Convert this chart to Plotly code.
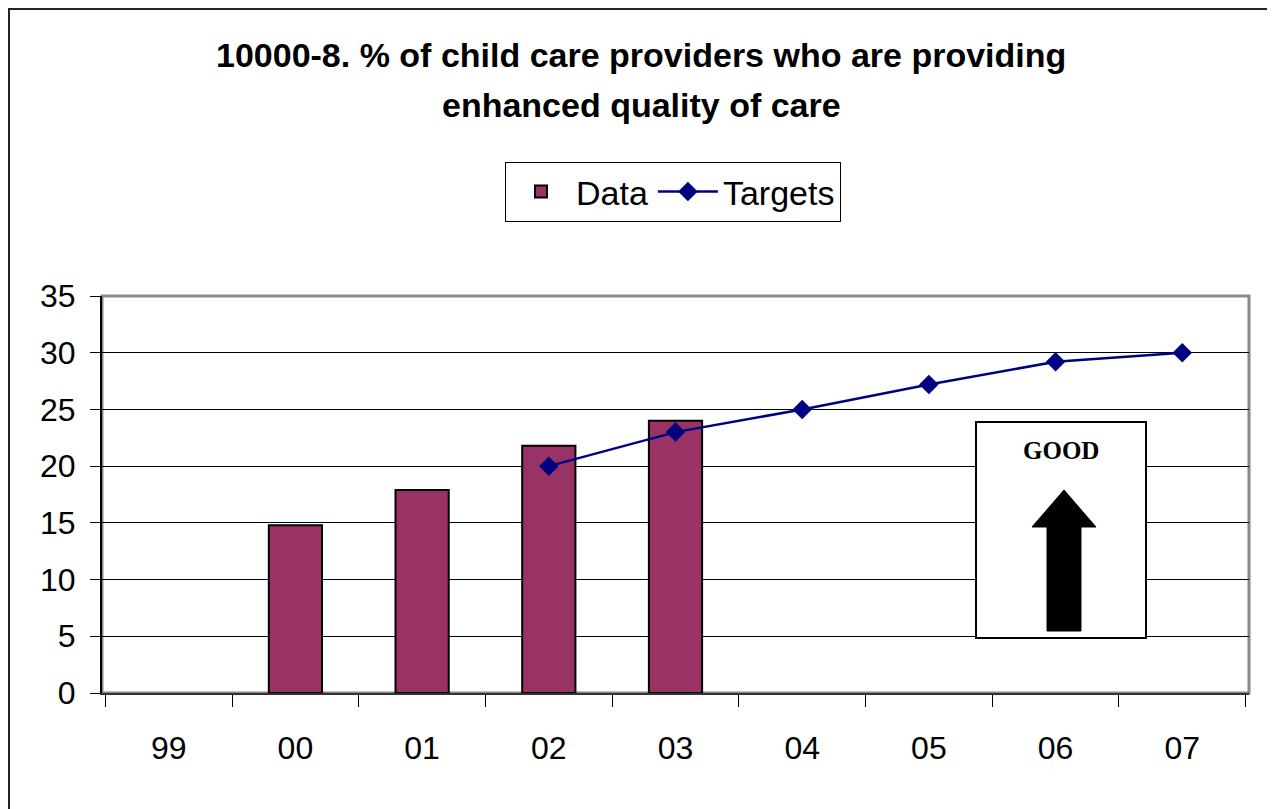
import plotly.graph_objects as go

years = ["99", "00", "01", "02", "03", "04", "05", "06", "07"]
data_values = [None, 14.8, 17.9, 21.8, 24.0, None, None, None, None]
target_values = [None, None, None, 20.0, 23.0, 25.0, 27.2, 29.2, 30.0]
y_ticks = [0, 5, 10, 15, 20, 25, 30, 35]

W, H = 1275, 809
OFF = 8  # page body margin
# plot area in reference-screen pixels
L, R, T, B = 102, 1249, 296, 693


def px_x(p):
    return (p - L) / (R - L)


def px_y(p):
    return (B - p) / (B - T)


fig = go.Figure()
fig.add_trace(go.Bar(
    x=years, y=data_values, name="Data", width=0.42,
    marker=dict(color="#993366", line=dict(color="#000000", width=2)),
))
fig.add_trace(go.Scatter(
    x=years, y=target_values, name="Targets", mode="lines+markers",
    line=dict(color="#000080", width=2.5),
    marker=dict(symbol="diamond", size=15, color="#000080"),
    connectgaps=False,
))

shapes = [
    # outer frame
    dict(type="rect", xref="paper", yref="paper",
         x0=px_x(8 + 1), x1=px_x(1272), y0=px_y(825), y1=px_y(OFF + 1),
         line=dict(color="#222222", width=2), layer="below"),
    # plot area border (top/right grey)
    dict(type="rect", xref="paper", yref="paper",
         x0=0, x1=1, y0=0, y1=1,
         line=dict(color="#888888", width=3), layer="below"),
    # GOOD box
    dict(type="rect", xref="paper", yref="paper",
         x0=px_x(976), x1=px_x(1146), y0=px_y(638), y1=px_y(422),
         line=dict(color="#000000", width=2), fillcolor="white"),
]
arrow_pts = [(1047, 631), (1081, 631), (1081, 527), (1096, 527),
             (1064, 490), (1032, 527), (1047, 527)]
path = "M " + " L ".join(f"{px_x(a):.5f},{px_y(b):.5f}" for a, b in arrow_pts) + " Z"
shapes.append(dict(type="path", xref="paper", yref="paper", path=path,
                   fillcolor="black", line=dict(color="black", width=1)))

annotations = [
    dict(text="<b>10000-8. % of child care providers who are providing</b>",
         xref="paper", yref="paper", x=px_x(641), y=px_y(55),
         xanchor="center", yanchor="middle", showarrow=False,
         font=dict(family="Liberation Sans, Arial", size=34, color="black")),
    dict(text="<b>enhanced quality of care</b>",
         xref="paper", yref="paper", x=px_x(641), y=px_y(105),
         xanchor="center", yanchor="middle", showarrow=False,
         font=dict(family="Liberation Sans, Arial", size=34, color="black")),
    dict(text="<b>GOOD</b>", xref="paper", yref="paper",
         x=px_x(1061), y=px_y(450), xanchor="center", yanchor="middle",
         showarrow=False,
         font=dict(family="Liberation Serif, Times New Roman", size=25, color="black")),
]

fig.update_layout(
    width=W, height=H,
    margin=dict(l=L - OFF, r=W - (R - OFF), t=T - OFF, b=H - (B - OFF), pad=0),
    paper_bgcolor="white", plot_bgcolor="white",
    font=dict(family="Liberation Sans, Arial", size=32, color="black"),
    showlegend=True,
    legend=dict(orientation="h", x=px_x(673), xanchor="center",
                y=px_y(162), yanchor="top",
                bordercolor="#000000", borderwidth=1, bgcolor="white",
                font=dict(size=34), traceorder="normal", itemwidth=60,
                entrywidth=0),
    shapes=shapes, annotations=annotations,
    bargap=0.58,
)
fig.update_xaxes(
    type="category", categoryorder="array", categoryarray=years,
    showgrid=False, showline=True, linecolor="#333333", linewidth=2,
    ticks="outside", tickson="boundaries", ticklen=12, tickcolor="#000000",
    tickwidth=1, ticklabelstandoff=26, tickfont=dict(size=32),
)
fig.update_yaxes(
    range=[0, 35], tickvals=y_ticks, showgrid=True, gridcolor="#000000",
    gridwidth=1, showline=True, linecolor="#000000", linewidth=2,
    ticks="outside", ticklen=10, tickcolor="#000000", tickwidth=1,
    ticklabelstandoff=8, zeroline=False, tickfont=dict(size=32),
)

fig.write_html("out.html")
